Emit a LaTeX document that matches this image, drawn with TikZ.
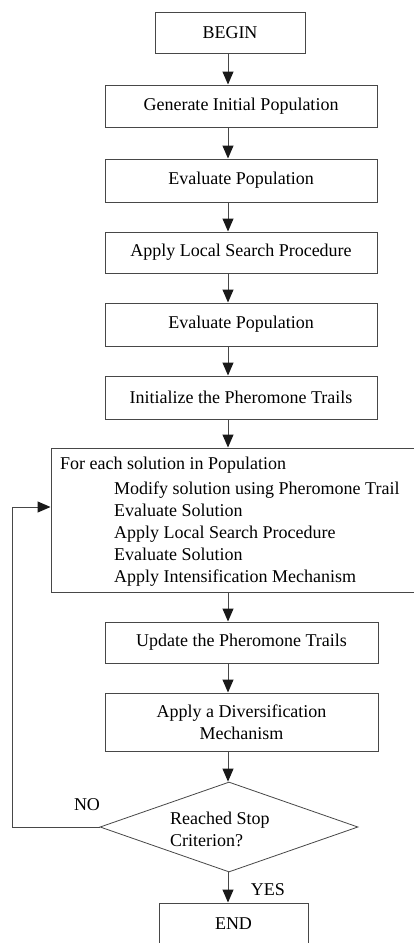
\documentclass[tikz,border=0pt]{standalone}
\usepackage{fontspec}
\setmainfont{Liberation Serif}
\usetikzlibrary{arrows.meta,shapes.geometric}
\begin{document}
\begin{tikzpicture}[x=1pt,y=-1pt,
  lbl/.style={font=\fontsize{18}{22}\selectfont, text=black},
  box/.style={draw=black!72, line width=1pt, rectangle, inner sep=0pt, lbl, align=center},
  arr/.style={draw=black!72, line width=1pt, -{Triangle[width=11pt,length=13pt,color=black!90]}}]
\useasboundingbox (0,0) rectangle (414,943);
\clip (0,0) rectangle (414,943);
\fill[white] (0,0) rectangle (414,943);
\coordinate (ax) at (228,0);
\node[box, minimum width=150pt, minimum height=41pt] (begin) at (230,32.5) {BEGIN};
\node[box, minimum width=272pt, minimum height=42pt] (gen) at (241,106) {Generate Initial Population};
\node[box, minimum width=272pt, minimum height=43pt] (eval1) at (241,180.5) {Evaluate Population};
\node[box, minimum width=272pt, minimum height=41pt] (local) at (241,252.5) {Apply Local Search Procedure};
\node[box, minimum width=272pt, minimum height=43pt] (eval2) at (241,324.5) {Evaluate Population};
\node[box, minimum width=272pt, minimum height=43pt] (init) at (241,397.5) {Initialize the Pheromone Trails};
\node[box, minimum width=365pt, minimum height=144pt] (big) at (233.5,520) {};
\node[lbl, anchor=north west, align=left, inner sep=0pt] (bigtext) at (60,457)
  {For each solution in Population\\[3pt]
   \hspace*{54pt}Modify solution using Pheromone Trail\\
   \hspace*{54pt}Evaluate Solution\\
   \hspace*{54pt}Apply Local Search Procedure\\
   \hspace*{54pt}Evaluate Solution\\
   \hspace*{54pt}Apply Intensification Mechanism};
\node[box, minimum width=273pt, minimum height=41pt] (update) at (241.5,642.5) {Update the Pheromone Trails};
\node[box, minimum width=273pt, minimum height=58pt] (div) at (241.5,722) {Apply a Diversification\\Mechanism};
\node[draw=black!72, line width=0.8pt, diamond, minimum width=258pt, minimum height=90pt, inner sep=0pt] (dia) at (229,827) {};
\node[lbl, anchor=west, align=left, inner sep=0pt] (diatext) at (170,829) {Reached Stop\\Criterion?};
\node[box, minimum width=149pt, minimum height=42pt] (end) at (233.5,924) {END};
\node[lbl, inner sep=0pt] (no) at (87,805) {NO};
\node[lbl, inner sep=0pt] (yes) at (268,890) {YES};
\coordinate (lc) at (12,507);
\draw[arr] (begin.south -| ax) -- (gen.north -| ax);
\draw[arr] (gen.south -| ax) -- (eval1.north -| ax);
\draw[arr] (eval1.south -| ax) -- (local.north -| ax);
\draw[arr] (local.south -| ax) -- (eval2.north -| ax);
\draw[arr] (eval2.south -| ax) -- (init.north -| ax);
\draw[arr] (init.south -| ax) -- (big.north -| ax);
\draw[arr] (big.south -| ax) -- (update.north -| ax);
\draw[arr] (update.south -| ax) -- (div.north -| ax);
\draw[arr] (div.south -| ax) -- (dia.north -| ax);
\draw[arr] (dia.south -| ax) -- (end.north -| ax);
\draw[arr] (dia.west) -| (lc) -- (lc -| big.west);
\end{tikzpicture}
\end{document}
